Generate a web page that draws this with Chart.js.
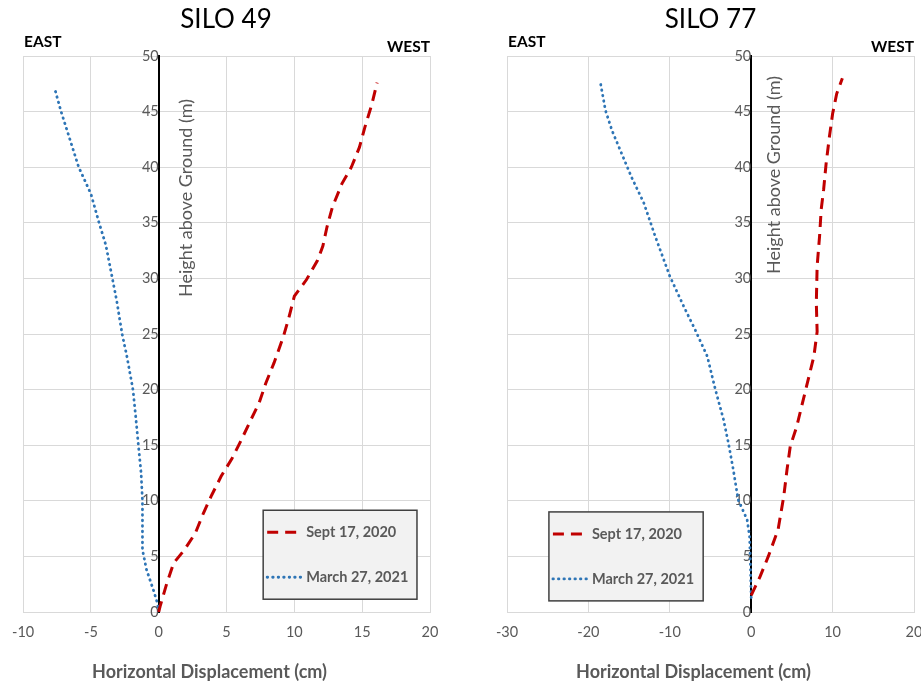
<!DOCTYPE html>
<html>
<head>
<meta charset="utf-8">
<script src="https://cdn.jsdelivr.net/npm/chart.js@4.4.0/dist/chart.umd.min.js"></script>
<style>
  html, body { margin: 0; padding: 0; background: #fff; overflow: hidden; }
  #wrap { position: relative; width: 921px; height: 683px; overflow: hidden; }
  #c1 { position: absolute; left: 0; top: 0; }
  #c2 { position: absolute; left: 460px; top: 0; }
</style>
</head>
<body>
<div id="wrap">
  <canvas id="c1" width="460" height="683"></canvas>
  <canvas id="c2" width="475" height="683"></canvas>
</div>
<script>
// series labels
var seriesNames = ["Sept 17, 2020", "March 27, 2021"];

// SILO 49 - horizontal displacement (cm) vs height (m)
var silo49SeptDisp   = [0, 0.1, 0.6, 1.1, 1.9, 2.7, 3.3, 3.9, 4.6, 5.4, 6.1, 6.8, 7.4, 7.9, 8.5, 9.2, 9.6, 10.0, 10.9, 11.7, 12.1, 12.4, 12.8, 13.5, 14.2, 14.8, 15.2, 15.7, 16.1];
var silo49SeptHeight = [0, 0.5, 2.6, 4.4, 5.6, 7.1, 8.9, 10.5, 12.2, 13.8, 15.5, 17.3, 18.8, 20.6, 22.4, 24.8, 26.5, 28.4, 29.9, 31.6, 32.9, 34.6, 36.4, 38.5, 40.0, 41.8, 43.6, 45.6, 47.6];
var silo49MarDisp    = [0, -0.1, -0.4, -0.9, -1.2, -1.2, -1.2, -1.3, -1.5, -1.7, -1.9, -2.35, -2.7, -3.1, -3.5, -3.9, -4.4, -5.0, -5.9, -6.6, -7.2, -7.7];
var silo49MarHeight  = [0, 0.8, 2.0, 3.8, 5.6, 7.4, 10.0, 12.5, 15.0, 17.6, 20.0, 23.0, 25.0, 28.0, 30.5, 33.0, 35.0, 37.6, 40.0, 42.7, 45.0, 47.2];

// SILO 77
var silo77SeptDisp   = [0, 1.1, 2.1, 3.3, 4.0, 4.4, 4.8, 5.6, 6.2, 7.0, 7.7, 8.1, 8.0, 8.1, 8.4, 8.6, 8.9, 9.2, 9.6, 10.0, 10.5, 11.2];
var silo77SeptHeight = [1.5, 3.2, 5.0, 7.4, 10.4, 12.8, 14.9, 16.7, 18.5, 20.9, 23.0, 25.2, 27.8, 31.1, 33.8, 36.2, 38.0, 40.3, 42.7, 44.8, 46.6, 48.0];
var silo77MarDisp    = [0, -0.1, -0.2, -0.5, -1.6, -2.2, -2.8, -3.4, -4.4, -5.4, -6.9, -8.3, -10.0, -11.8, -13.2, -14.7, -15.9, -17.1, -17.9, -18.5];
var silo77MarHeight  = [1.3, 4.4, 6.8, 8.3, 10.1, 12.8, 15.2, 17.3, 20.0, 23.0, 25.4, 27.5, 30.2, 33.8, 36.8, 39.1, 41.2, 43.3, 45.1, 47.5];

var FONT = "Lato, 'Open Sans', sans-serif";
var GRID = "#d9d9d9";
var GREY = "#595959";

function pairs(disp, height) {
    return disp.map(function(d, i){ return {x: d, y: height[i]}; });
}

// draws EAST / WEST, both axis titles and the boxed legend
var decor = {
    id: 'siloDecor',
    afterDatasetsDraw: function(chart, args, opts) {
        var ctx = chart.ctx, area = chart.chartArea;
        var x0 = chart.scales.x.getPixelForValue(0);
        ctx.save();

        ctx.fillStyle = "#000";
        ctx.font = "bold 15.5px " + FONT;
        ctx.textBaseline = "middle";
        ctx.textAlign = "left";
        ctx.fillText("EAST", area.left + 1, 42);
        ctx.textAlign = "right";
        ctx.fillText("WEST", area.right, 47);

        // x title, sits a bit left of centre like the original
        ctx.textAlign = "center";
        ctx.fillStyle = GREY;
        ctx.font = "bold 18px " + FONT;
        ctx.fillText("Horizontal Displacement (cm)", (area.left + area.right) / 2 + opts.xTitleDx, 672);

        ctx.save();
        ctx.translate(x0 + opts.titleDx, opts.titleY);
        ctx.rotate(-Math.PI / 2);
        ctx.textAlign = "center";
        ctx.fillStyle = GREY;
        ctx.font = "18px " + FONT;
        ctx.fillText("Height above Ground (m)", 0, 0);
        ctx.restore();

        //legend box
        var w = area.right - area.left, h = area.bottom - area.top;
        var bx = area.left + opts.box[0] * w, by = area.top + opts.box[1] * h;
        var bw = (opts.box[2] - opts.box[0]) * w, bh = (opts.box[3] - opts.box[1]) * h;
        ctx.fillStyle = "#f2f2f2";
        ctx.fillRect(bx, by, bw, bh);
        ctx.strokeStyle = "#404040";
        ctx.lineWidth = 1.5;
        ctx.strokeRect(bx, by, bw, bh);

        var rows = [22, 67];
        chart.data.datasets.forEach(function(ds, i){
            var ry = by + rows[i];
            ctx.beginPath();
            ctx.strokeStyle = ds.borderColor;
            ctx.lineWidth = ds.borderWidth;
            ctx.lineCap = ds.borderCapStyle || "butt";
            ctx.setLineDash(ds.borderDash);
            ctx.moveTo(bx + 4, ry);
            ctx.lineTo(bx + 39, ry);
            ctx.stroke();
            ctx.setLineDash([]);
            ctx.fillStyle = GREY;
            ctx.font = "bold 14.5px " + FONT;
            ctx.textAlign = "left";
            ctx.textBaseline = "middle";
            ctx.fillText(ds.label, bx + 43, ry);
        });
        ctx.restore();
    }
};

function makeChart(id, title, xmin, xstep, sept, march, pad, decorOpts) {
    return new Chart(document.getElementById(id), {
        type: "scatter",
        data: {
            datasets: [
                {
                    label: seriesNames[0],
                    data: sept,
                    showLine: true,
                    borderColor: "#c00000",
                    borderWidth: 3,
                    borderDash: [11, 7],
                    pointRadius: 0
                },
                {
                    label: seriesNames[1],
                    data: march,
                    showLine: true,
                    borderColor: "#2e75b6",
                    borderWidth: 2.8,
                    borderDash: [0.5, 5],
                    borderCapStyle: "round",
                    pointRadius: 0
                }
            ]
        },
        options: {
            responsive: false,
            animation: false,
            layout: { padding: pad },
            plugins: {
                legend: { display: false },
                tooltip: { enabled: false },
                title: {
                    display: true,
                    text: title,
                    color: "#000",
                    font: { family: FONT, size: 26, weight: "normal" },
                    padding: { top: 4, bottom: 20.8 }
                },
                siloDecor: decorOpts
            },
            scales: {
                x: {
                    type: "linear",
                    min: xmin,
                    max: 20,
                    ticks: { stepSize: xstep, color: GREY, font: { family: FONT, size: 14.5 }, padding: 12 },
                    grid: {
                        drawTicks: false,
                        color: function(c){ return c.tick && c.tick.value === 0 ? "rgba(0,0,0,0)" : GRID; }
                    },
                    border: { color: GRID },
                    afterFit: function(s){ s.height = 71; }
                },
                y: {
                    type: "linear",
                    min: 0,
                    max: 50,
                    position: { x: 0 },
                    ticks: { stepSize: 5, color: GREY, font: { family: FONT, size: 14.5 }, padding: 14 },
                    grid: { drawTicks: false, color: GRID },
                    border: { color: "#000", width: 2 }
                }
            }
        },
        plugins: [decor]
    });
}

var chart1 = makeChart("c1", "SILO 49", -10, 5,
    pairs(silo49SeptDisp, silo49SeptHeight), pairs(silo49MarDisp, silo49MarHeight),
    { top: 0, left: 22, right: 30, bottom: 0 },
    { titleDx: 27, titleY: 198, xTitleDx: -17, box: [0.59, 0.817, 0.968, 0.977] });

var chart2 = makeChart("c2", "SILO 77", -30, 10,
    pairs(silo77SeptDisp, silo77SeptHeight), pairs(silo77MarDisp, silo77MarHeight),
    { top: 0, left: 47, right: 21, bottom: 0 },
    { titleDx: 23, titleY: 175, xTitleDx: -17, box: [0.103, 0.82, 0.482, 0.98] });
</script>
</body>
</html>
